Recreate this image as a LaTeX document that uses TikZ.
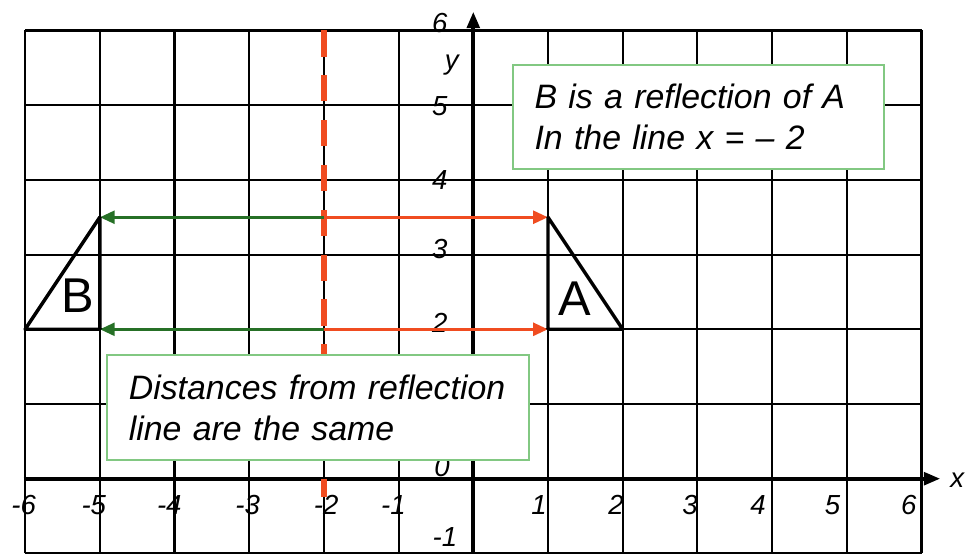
\documentclass[tikz,border=0pt]{standalone}
\usepackage{fontspec}
\setmainfont{Liberation Sans}
\usetikzlibrary{arrows.meta}
\definecolor{reflred}{RGB}{240,76,32}
\definecolor{reflgreen}{RGB}{38,112,38}
\definecolor{boxgreen}{RGB}{130,200,130}
\tikzset{
  gridline/.style={line width=0.8pt, black},
  axisline/.style={line width=1.4pt, black, -{Triangle[length=0.22cm,width=0.17cm]}},
  numlab/.style={font=\fontsize{10.5}{12}\selectfont\itshape, inner sep=0pt},
  shapeline/.style={line width=1.3pt, black, line join=round},
  redarrow/.style={line width=1.3pt, reflred, -{Triangle[length=0.2cm,width=0.17cm]}},
  greenarrow/.style={line width=1.3pt, reflgreen, -{Triangle[length=0.2cm,width=0.17cm]}},
  mirrorline/.style={line width=2.2pt, reflred, dash pattern=on 0.35cm off 0.25cm},
  notebox/.style={draw=boxgreen, line width=0.9pt, fill=white, anchor=north west,
    align=left, inner xsep=0.29cm, inner ysep=0pt,
    font=\fontsize{12.9}{15.6}\selectfont\itshape},
  shapelab/.style={font=\fontsize{18.6}{20}\selectfont, inner sep=0pt}
}
\begin{document}
\begin{tikzpicture}
\useasboundingbox (-6.336,-1.008) rectangle (6.649,6.408);
% grid
\draw[gridline] (-6,-1) grid (6,6);
% axes
\draw[axisline] (-6.02,0) -- (6.25,0);
\draw[axisline] (0,-1.02) -- (0,6.25);
% x labels
\node[numlab] (xm6) at (-6.02,-0.35) {-6};
\node[numlab] (xm5) at (-5.08,-0.35) {-5};
\node[numlab] (xm4) at (-4.07,-0.35) {-4};
\node[numlab] (xm3) at (-3.02,-0.35) {-3};
\node[numlab] (xm2) at (-1.97,-0.35) {-2};
\node[numlab] (xm1) at (-1.07,-0.35) {-1};
\node[numlab] (xp1) at (0.88,-0.35) {1};
\node[numlab] (xp2) at (1.91,-0.35) {2};
\node[numlab] (xp3) at (2.90,-0.35) {3};
\node[numlab] (xp4) at (3.81,-0.35) {4};
\node[numlab] (xp5) at (4.81,-0.35) {5};
\node[numlab] (xp6) at (5.83,-0.35) {6};
% y labels
\node[numlab] (yp6) at (-0.45,6.1) {6};
\node[numlab] (yp5) at (-0.45,4.99) {5};
\node[numlab] (yp4) at (-0.45,4.0) {4};
\node[numlab] (yp3) at (-0.45,3.08) {3};
\node[numlab] (yp2) at (-0.45,2.08) {2};
\node[numlab] (yp0) at (-0.42,0.16) {0};
\node[numlab] (ym1) at (-0.38,-0.78) {-1};
\node[numlab] (ylab) at (-0.29,5.54) {y};
\node[numlab] (xlab) at (6.48,-0.02) {x};
% mirror line
\coordinate (mtop) at (-2,6);
\coordinate (mbot) at (-2,-0.25);
\draw[mirrorline] (mtop) -- (mbot);
% key points
\coordinate (m1) at (-2,3.5);
\coordinate (m2) at (-2,2);
\coordinate (a1) at (1,3.5);
\coordinate (a2) at (1,2);
\coordinate (a3) at (2,2);
\coordinate (b1) at (-5,3.5);
\coordinate (b2) at (-5,2);
\coordinate (b3) at (-6,2);
% arrows
\draw[greenarrow] (m1) -- (b1);
\draw[greenarrow] (m2) -- (b2);
\draw[redarrow] (m1) -- (a1);
\draw[redarrow] (m2) -- (a2);
% shapes
\draw[shapeline] (a1) -- (a2) -- (a3) -- cycle;
\draw[shapeline] (b1) -- (b2) -- (b3) -- cycle;
\node[shapelab] (labA) at (1.36,2.41) {A};
\node[shapelab] (labB) at (-5.30,2.45) {B};
% boxes
\node[notebox, minimum width=4.97cm, minimum height=1.39cm, text width=4.39cm] (note1) at (0.514,5.55)
  {B is a reflection of A\\In the line x = -- 2};
\node[notebox, minimum width=5.65cm, minimum height=1.405cm, text width=5.07cm] (note2) at (-4.917,1.669)
  {Distances from reflection\\line are the same};
\end{tikzpicture}
\end{document}
